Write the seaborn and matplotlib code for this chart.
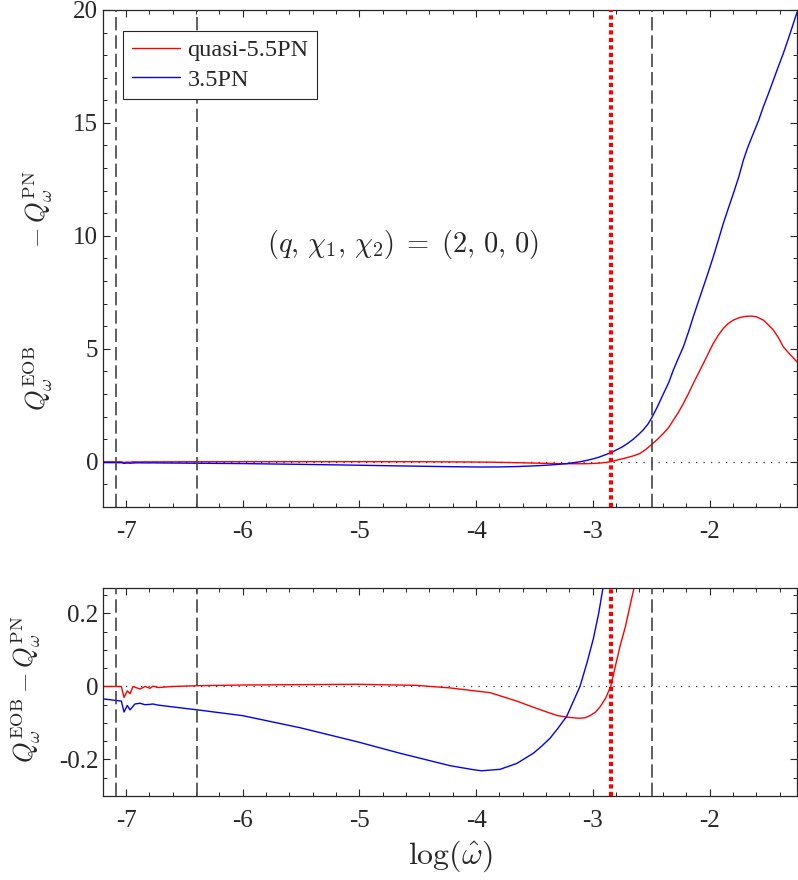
import matplotlib
matplotlib.use("Agg")
import matplotlib.pyplot as plt
from matplotlib.ticker import MultipleLocator, FuncFormatter
import seaborn as sns

# values (x = log(omega_hat))
red_x = [-7.197, -7.04, -7.017, -6.989, -6.966, -6.94, -6.88, -6.837, -6.794, -6.769,
         -6.726, -6.6, -6.39, -6.0, -5.509, -5.012, -4.509, -4.224, -3.88, -3.652,
         -3.5, -3.367, -3.3, -3.224, -3.124, -3.07, -3.024, -2.98, -2.938, -2.89,
         -2.847, -2.8, -2.767, -2.72, -2.696, -2.647, -2.596, -2.545, -2.495, -2.445,
         -2.396, -2.35, -2.31, -2.265, -2.224, -2.18, -2.139, -2.095, -2.053, -2.01,
         -1.968, -1.925, -1.882, -1.84, -1.796, -1.75, -1.71, -1.68, -1.64, -1.6,
         -1.539, -1.5, -1.453, -1.41, -1.368, -1.31, -1.25]
red_y = [0.0, 0.0, -0.03, -0.012, -0.02, 0.0, -0.007, 0.0, -0.005, 0.001,
         -0.003, 0.0, 0.002, 0.004, 0.005, 0.006, 0.003, -0.004, -0.017, -0.04,
         -0.058, -0.073, -0.080, -0.084, -0.087, -0.086, -0.080, -0.071, -0.056, -0.032,
         0.0, 0.065, 0.11, 0.165, 0.20, 0.27, 0.37, 0.55, 0.77, 1.0,
         1.25, 1.52, 1.84, 2.2, 2.58, 3.02, 3.47, 3.92, 4.35, 4.8,
         5.24, 5.6, 5.9, 6.12, 6.27, 6.37, 6.42, 6.44, 6.45, 6.42,
         6.27, 6.08, 5.83, 5.5, 5.09, 4.75, 4.42]

blue_x = [-7.197, -7.04, -7.017, -6.989, -6.966, -6.923, -6.88, -6.837, -6.794, -6.769,
          -6.726, -6.6, -6.39, -6.0, -5.509, -5.012, -4.652, -4.224, -4.024, -3.952,
          -3.795, -3.652, -3.51, -3.44, -3.367, -3.3, -3.224, -3.17, -3.11, -3.05,
          -2.996, -2.95, -2.913, -2.847, -2.8, -2.75, -2.7, -2.653, -2.61, -2.57,
          -2.53, -2.495, -2.45, -2.396, -2.35, -2.31, -2.27, -2.224, -2.18, -2.139,
          -2.095, -2.053, -2.01, -1.968, -1.925, -1.882, -1.84, -1.796, -1.75, -1.71,
          -1.67, -1.625, -1.58, -1.539, -1.495, -1.453, -1.41, -1.368, -1.31, -1.25]
blue_y = [-0.034, -0.040, -0.070, -0.052, -0.064, -0.048, -0.046, -0.050, -0.049, -0.048,
          -0.051, -0.056, -0.064, -0.080, -0.113, -0.152, -0.183, -0.217, -0.228, -0.231,
          -0.227, -0.211, -0.183, -0.164, -0.142, -0.115, -0.082, -0.043, 0.0, 0.065,
          0.130, 0.2, 0.27, 0.40, 0.52, 0.65, 0.82, 1.0, 1.2, 1.4,
          1.65, 1.95, 2.4, 3.0, 3.5, 4.06, 4.55, 5.09, 5.75, 6.42,
          7.1, 7.74, 8.4, 9.07, 9.8, 10.55, 11.2, 11.87, 12.6, 13.35,
          13.95, 14.53, 15.1, 15.71, 16.3, 16.89, 17.5, 18.07, 18.95, 19.9]

dashed_x = [-7.086, -6.39, -2.495]
dotted_x = -2.847

xlim = (-7.197, -1.25)
top_ylim = (-2, 20)
bot_ylim = (-0.3, 0.27)

sns.set_theme(style="ticks")
plt.rcParams.update({
    "font.family": ["Liberation Serif", "DejaVu Serif"],
    "mathtext.fontset": "cm",
    "axes.unicode_minus": False,
    "axes.edgecolor": "#262626",
    "axes.linewidth": 0.9,
    "xtick.direction": "in",
    "ytick.direction": "in",
    "xtick.top": True,
    "ytick.right": True,
    "xtick.major.size": 5,
    "ytick.major.size": 5,
    "xtick.minor.size": 2.8,
    "ytick.minor.size": 2.8,
    "xtick.major.width": 0.8,
    "ytick.major.width": 0.8,
    "xtick.minor.width": 0.7,
    "ytick.minor.width": 0.7,
    "xtick.color": "#262626",
    "ytick.color": "#262626",
    "xtick.labelsize": 18,
    "ytick.labelsize": 18,
})

fig = plt.figure(figsize=(7.98, 8.8), dpi=100)
ax1 = fig.add_axes([0.1291, 0.4239, 0.8697, 0.5648])
ax2 = fig.add_axes([0.1291, 0.0955, 0.8697, 0.2364])

fmt = FuncFormatter(lambda v, p: f"{v:g}")

for ax, ylim in [(ax1, top_ylim), (ax2, bot_ylim)]:
    sns.lineplot(x=red_x, y=red_y, ax=ax, color="#ff0000", lw=1.0,
                 label="quasi-5.5PN" if ax is ax1 else None, legend=False)
    sns.lineplot(x=blue_x, y=blue_y, ax=ax, color="#0000ff", lw=1.0,
                 label="3.5PN" if ax is ax1 else None, legend=False)
    ax.axhline(0, color="#333333", lw=0.9, ls=(0, (1, 5)), zorder=1)
    for xv in dashed_x:
        ax.axvline(xv, color="#444444", lw=1.2, ls=(0, (8, 3)), zorder=3)
    ax.axvline(dotted_x, color="#ff0000", lw=3, ls=(0, (1, 0.8)), zorder=4)
    ax.set_xlim(*xlim)
    ax.set_ylim(*ylim)
    ax.xaxis.set_major_locator(MultipleLocator(1))
    ax.xaxis.set_minor_locator(MultipleLocator(0.2))
    ax.xaxis.set_major_formatter(fmt)
    ax.yaxis.set_major_formatter(fmt)
    ax.tick_params(which="both", top=True, right=True)
    ax.tick_params(axis="x", pad=10)

ax1.yaxis.set_major_locator(MultipleLocator(5))
ax1.yaxis.set_minor_locator(MultipleLocator(1))
ax2.yaxis.set_major_locator(MultipleLocator(0.2))
ax2.yaxis.set_minor_locator(MultipleLocator(0.05))

ax1.set_ylabel(r"$Q_\omega^{\rm EOB}\qquad\qquad - Q_\omega^{\rm PN}$", fontsize=19)
ax1.yaxis.set_label_coords(-0.069, 0.435)
ax2.set_ylabel(r"$Q_\omega^{\rm EOB} - Q_\omega^{\rm PN}$", fontsize=19)
ax2.yaxis.set_label_coords(-0.086, 0.515)
ax2.set_xlabel(r"$\log(\hat{\omega})$", fontsize=23, labelpad=5)

ax1.text(-4.63, 9.6, r"$(q,\,\chi_1,\,\chi_2)\;=\;(2,\,0,\,0)$", fontsize=20.5,
         ha="center", va="center")

leg = ax1.legend(loc="upper left", bbox_to_anchor=(0.029, 0.958), borderaxespad=0,
                 fontsize=17.5, frameon=True, fancybox=False, framealpha=1,
                 edgecolor="#262626", handlelength=2.0, handletextpad=0.3,
                 borderpad=0.35, labelspacing=0.3)
leg.get_frame().set_linewidth(0.8)

fig.savefig("out.png", dpi=100)
